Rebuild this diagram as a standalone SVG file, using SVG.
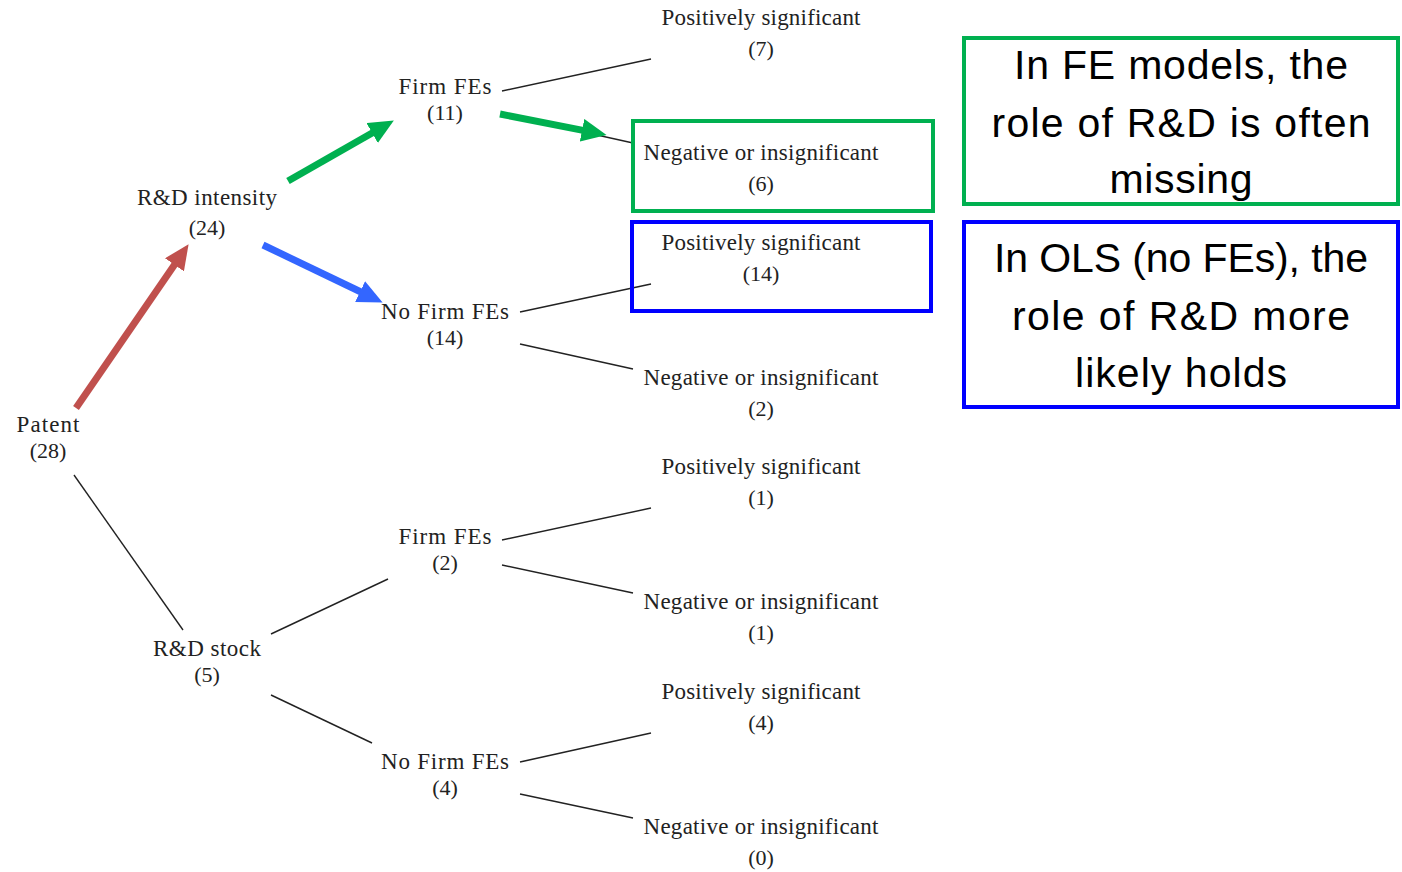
<svg xmlns="http://www.w3.org/2000/svg" width="1402" height="872" viewBox="0 0 1402 872">
<style>
.t{font-family:"Liberation Serif","DejaVu Serif",serif;font-size:23px;fill:#222;text-anchor:middle}
.n{font-family:"Liberation Serif","DejaVu Serif",serif;font-size:22px;fill:#222;text-anchor:middle}
.b{font-family:"Liberation Sans","Open Sans",sans-serif;font-size:41px;fill:#000;text-anchor:middle}
.e{stroke:#222;stroke-width:1.4;fill:none}
.a{stroke-width:7;fill:none}
</style>
<defs>
<marker id="hr" markerUnits="userSpaceOnUse" markerWidth="25" markerHeight="23" viewBox="0 0 25 23" refX="1" refY="11.5" orient="auto"><path d="M0,0 L25,11.5 L0,23 z" fill="#C0504D"/></marker>
<marker id="hg" markerUnits="userSpaceOnUse" markerWidth="25" markerHeight="23" viewBox="0 0 25 23" refX="1" refY="11.5" orient="auto"><path d="M0,0 L25,11.5 L0,23 z" fill="#00B050"/></marker>
<marker id="hb" markerUnits="userSpaceOnUse" markerWidth="25" markerHeight="23" viewBox="0 0 25 23" refX="1" refY="11.5" orient="auto"><path d="M0,0 L25,11.5 L0,23 z" fill="#3366FF"/></marker>
</defs>
<rect width="1402" height="872" fill="#fff"/>
<g id="connectors">
<line class="e" x1="502" y1="91" x2="651" y2="59"/>
<line class="e" x1="502" y1="114" x2="633" y2="143"/>
<line class="e" x1="520" y1="312" x2="651" y2="284"/>
<line class="e" x1="520" y1="344" x2="633" y2="369"/>
<line class="e" x1="74" y1="475" x2="183" y2="630"/>
<line class="e" x1="271" y1="634" x2="388" y2="579"/>
<line class="e" x1="271" y1="695" x2="372" y2="743"/>
<line class="e" x1="502" y1="540" x2="651" y2="508"/>
<line class="e" x1="502" y1="565" x2="633" y2="593"/>
<line class="e" x1="520" y1="762" x2="651" y2="733"/>
<line class="e" x1="520" y1="794" x2="633" y2="818"/>
<line class="a" stroke="#C0504D" x1="76" y1="408" x2="175" y2="264" marker-end="url(#hr)"/>
<line class="a" stroke="#00B050" x1="288" y1="181" x2="373" y2="132.5" marker-end="url(#hg)"/>
<line class="a" stroke="#3366FF" x1="263" y1="245" x2="361" y2="292" marker-end="url(#hb)"/>
<line class="a" stroke="#00B050" x1="500" y1="114" x2="583" y2="130.4" marker-end="url(#hg)"/>
</g>
<g id="patent"><text class="t" x="48" y="432" textLength="63">Patent</text><text class="n" x="48" y="458">(28)</text></g>
<g id="rd-intensity"><text class="t" x="207" y="205" textLength="140">R&amp;D intensity</text><text class="n" x="207" y="235">(24)</text></g>
<g id="rd-stock"><text class="t" x="207" y="656" textLength="108">R&amp;D stock</text><text class="n" x="207" y="682">(5)</text></g>
<g id="firm-fe-11"><text class="t" x="445" y="94" textLength="93">Firm FEs</text><text class="n" x="445" y="120">(11)</text></g>
<g id="nofirm-fe-14"><text class="t" x="445" y="319" textLength="128">No Firm FEs</text><text class="n" x="445" y="345">(14)</text></g>
<g id="firm-fe-2"><text class="t" x="445" y="544" textLength="93">Firm FEs</text><text class="n" x="445" y="570">(2)</text></g>
<g id="nofirm-fe-4"><text class="t" x="445" y="769" textLength="128">No Firm FEs</text><text class="n" x="445" y="795">(4)</text></g>
<g id="leaf-pos-7"><text class="t" x="761" y="25" textLength="199">Positively significant</text><text class="n" x="761" y="56">(7)</text></g>
<g id="leaf-neg-6"><text class="t" x="761" y="160" textLength="235">Negative or insignificant</text><text class="n" x="761" y="191">(6)</text></g>
<g id="leaf-pos-14"><text class="t" x="761" y="250" textLength="199">Positively significant</text><text class="n" x="761" y="281">(14)</text></g>
<g id="leaf-neg-2"><text class="t" x="761" y="385" textLength="235">Negative or insignificant</text><text class="n" x="761" y="416">(2)</text></g>
<g id="leaf-pos-1"><text class="t" x="761" y="474" textLength="199">Positively significant</text><text class="n" x="761" y="505">(1)</text></g>
<g id="leaf-neg-1"><text class="t" x="761" y="609" textLength="235">Negative or insignificant</text><text class="n" x="761" y="640">(1)</text></g>
<g id="leaf-pos-4"><text class="t" x="761" y="699" textLength="199">Positively significant</text><text class="n" x="761" y="730">(4)</text></g>
<g id="leaf-neg-0"><text class="t" x="761" y="834" textLength="235">Negative or insignificant</text><text class="n" x="761" y="865">(0)</text></g>
<g id="highlight-fe"><rect x="633" y="121" width="300" height="90" fill="none" stroke="#00B050" stroke-width="4"/></g>
<g id="highlight-ols"><rect x="632" y="222" width="299" height="89" fill="none" stroke="#0000FF" stroke-width="4"/></g>
<g id="note-fe"><rect x="964" y="38" width="434" height="166" fill="none" stroke="#00B050" stroke-width="4"/>
<text class="b" x="1181" y="79" textLength="334">In FE models, the</text>
<text class="b" x="1181" y="137" textLength="379">role of R&amp;D is often</text>
<text class="b" x="1181" y="193" textLength="143">missing</text></g>
<g id="note-ols"><rect x="964" y="222" width="434" height="185" fill="none" stroke="#0000FF" stroke-width="4"/>
<text class="b" x="1181" y="272" textLength="374">In OLS (no FEs), the</text>
<text class="b" x="1181" y="330" textLength="338">role of R&amp;D more</text>
<text class="b" x="1181" y="387" textLength="212">likely holds</text></g>
</svg>
